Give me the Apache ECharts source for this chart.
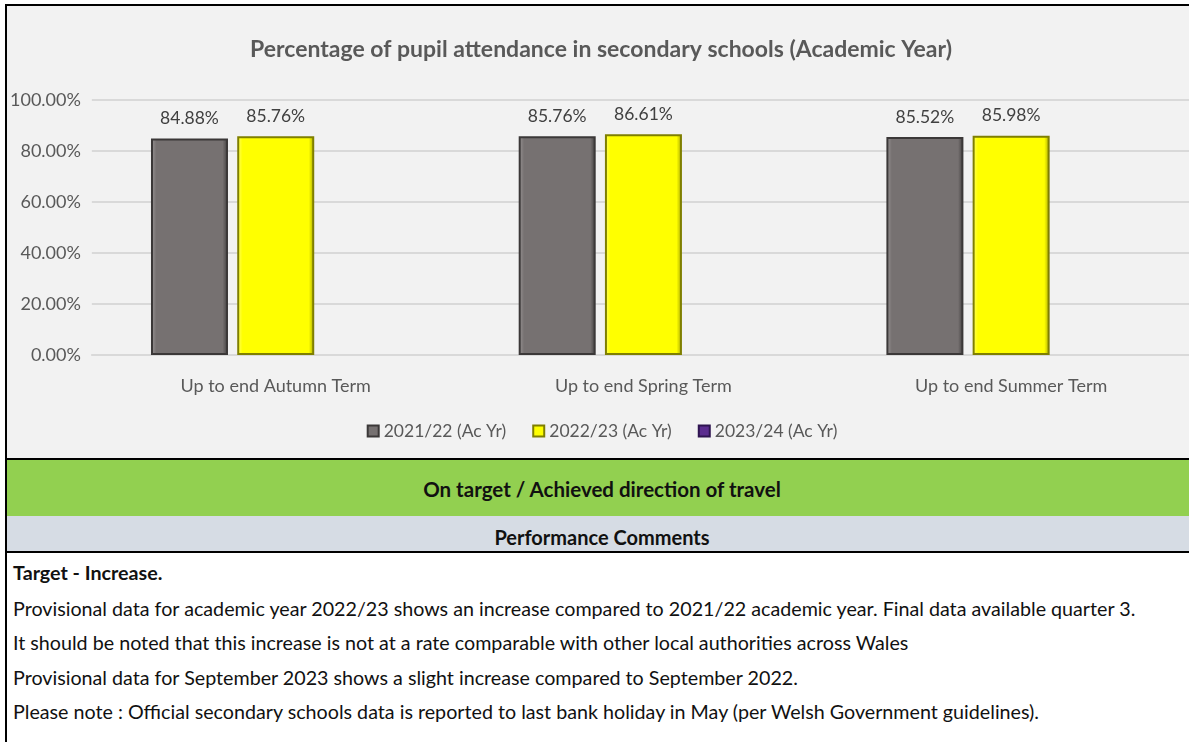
<!DOCTYPE html>
<html>
<head>
<meta charset="utf-8">
<script src="https://cdn.jsdelivr.net/npm/echarts@6/dist/echarts.min.js"></script>
<style>
    body { margin: 0; background: #fff; font-family: Lato, "Noto Sans", sans-serif; }
    #page { position: relative; width: 1189px; height: 742px; overflow: hidden; }
    #chart { position: absolute; left: 5px; top: 4px; width: 1190px; height: 452px;
        border: 2px solid #000; border-right: none; background: #f2f2f2; }
    #status { position: absolute; left: 5px; top: 458px; width: 1190px; height: 56px;
        border: 2px solid #000; border-right: none; background: #92d050;
        font-weight: bold; font-size: 20.5px; color: #111; text-align: center; line-height: 58px; }
    #head { position: absolute; left: 5px; top: 516px; width: 1190px; height: 35px;
        border-left: 2px solid #000; border-bottom: 2px solid #000; background: #d6dce4;
        font-weight: bold; font-size: 20px; color: #111; text-align: center; line-height: 42px; }
    #comments { position: absolute; left: 5px; top: 553px; width: 1190px; height: 200px;
        border-left: 2px solid #000; font-size: 19.7px; color: #111; padding-left: 6px; }
    #comments div { height: 34.3px; line-height: 34.3px; white-space: nowrap; }
    #comments div.b { font-weight: bold; height: 39px; line-height: 40px; }
</style>
</head>
<body>
<div id="page">
    <div id="chart"></div>
    <div id="status">On target / Achieved direction of travel</div>
    <div id="head">Performance Comments</div>
    <div id="comments">
        <div class="b">Target - Increase.</div>
        <div>Provisional data for academic year 2022/23 shows an increase compared to 2021/22 academic year. Final data available quarter 3.</div>
        <div>It should be noted that this increase is not at a rate comparable with other local authorities across Wales</div>
        <div>Provisional data for September 2023 shows a slight increase compared to September 2022.</div>
        <div>Please note : Official secondary schools data is reported to last bank holiday in May (per Welsh Government guidelines).</div>
    </div>
</div>
<script>
const categories = ['Up to end Autumn Term', 'Up to end Spring Term', 'Up to end Summer Term']
const seriesNames = ['2021/22 (Ac Yr)', '2022/23 (Ac Yr)', '2023/24 (Ac Yr)']
const values2122 = [84.88, 85.76, 85.52]
const values2223 = [85.76, 86.61, 85.98]
// no figures reported yet for this year, the slot is still kept
const values2324 = [null, null, null]
const yTicks = { min: 0, max: 100, interval: 20 }

const FONT = 'Lato, "Noto Sans", sans-serif'

function barStyle(edgeLight, base, edgeDark, border) {
    return {
        color: {
            type: 'linear', x: 0, y: 0, x2: 1, y2: 0,
            colorStops: [
                { offset: 0, color: edgeLight },
                { offset: 0.07, color: base },
                { offset: 0.93, color: base },
                { offset: 1, color: edgeDark }
            ]
        },
        borderColor: border,
        borderWidth: 2
    }
}

let myChart = echarts.init(document.getElementById('chart'))

let labelStyle = {
    show: true,
    position: 'top',
    distance: 11,
    fontFamily: FONT,
    fontSize: 17.5,
    color: '#404040',
    formatter: function(p) {
        return p.value.toFixed(2) + '%'
    }
}

let option = {
    animation: false,
    title: {
        text: 'Percentage of pupil attendance in secondary schools (Academic Year)',
        left: 589,
        textAlign: 'center',
        top: 27,
        textStyle: {
            fontFamily: FONT,
            fontSize: 23,
            fontWeight: 'bold',
            color: '#595959'
        }
    },
    legend: {
        data: seriesNames,
        left: 'center',
        top: 411,
        itemWidth: 11,
        itemHeight: 11,
        itemGap: 26,
        icon: 'rect',
        textStyle: {
            fontFamily: FONT,
            fontSize: 17.5,
            color: '#595959'
        }
    },
    grid: {
        left: 84,
        top: 94,
        width: 1104,
        height: 255
    },
    xAxis: [{
        type: 'category',
        data: categories,
        axisLine: { lineStyle: { color: '#d9d9d9', width: 2 } },
        axisTick: { show: false },
        axisLabel: {
            margin: 22,
            fontFamily: FONT,
            fontSize: 18,
            color: '#595959'
        }
    }],
    yAxis: [{
        type: 'value',
        min: yTicks.min,
        max: yTicks.max,
        interval: yTicks.interval,
        splitLine: { lineStyle: { color: '#d9d9d9', width: 2 } },
        axisLabel: {
            margin: 11,
            fontFamily: FONT,
            fontSize: 18,
            color: '#595959',
            formatter: function(v) {
                return v.toFixed(2) + '%'
            }
        }
    }],
    series: [{
        name: seriesNames[0],
        type: 'bar',
        barWidth: 77,
        barGap: '12%',
        data: values2122,
        itemStyle: barStyle('#9a9696', '#767171', '#403d3d', '#3b3838'),
        label: labelStyle
    }, {
        name: seriesNames[1],
        type: 'bar',
        barWidth: 77,
        barGap: '12%',
        data: values2223,
        itemStyle: barStyle('#ffff66', '#ffff00', '#a6a600', '#7f7f00'),
        label: labelStyle
    }, {
        name: seriesNames[2],
        type: 'bar',
        barWidth: 77,
        barGap: '12%',
        data: values2324,
        itemStyle: barStyle('#7a4cb0', '#5b2c8f', '#3a1a60', '#2e1450'),
        label: labelStyle
    }]
}
myChart.setOption(option)
</script>
</body>
</html>
